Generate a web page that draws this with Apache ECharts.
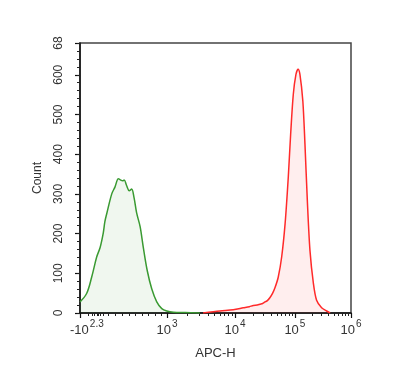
<!DOCTYPE html>
<html>
<head>
<meta charset="utf-8">
<script src="https://cdn.jsdelivr.net/npm/echarts@6/dist/echarts.min.js"></script>
<style>html,body{margin:0;padding:0;background:#fff}#c{width:397px;height:388px}</style>
</head>
<body>
<div id="c"></div>
<script>
// x values are display channels (0..1024) of the biexponential APC-H axis
var greenSeries = [[0,28],[25,49],[44,90],[63,141],[76,165],[88,202],[94,230],[101,250],[120,300],[132,317],[145,338],[151,336],[161,333],[167,335],[176,321],[186,308],[195,312],[204,291],[214,252],[227,218],[239,166],[254,107],[271,61],[290,28],[309,11],[328,5],[353,2],[397,1],[453,0]];
var redSeries = [[465,0],[529,5],[579,8],[617,13],[640,16],[655,19],[670,20],[680,22],[690,24],[699,28],[708,31],[718,39],[728,50],[737,64],[749,90],[762,141],[775,225],[787,342],[796,451],[806,551],[816,601],[824,614],[831,601],[842,534],[850,426],[859,283],[869,157],[882,74],[894,32],[913,13],[932,5],[945,0]];
var majorTickPos = [0, 329, 586, 812, 1024];
var majorTickLabels = ['-10|2.3', '10|3', '10|4', '10|5', '10|6'];
var labelPos = [26, 329, 586, 812, 1024];
var lowMinorTicks = [30, 47, 53, 64, 70, 76, 87, 106, 132, 159, 185, 208, 234, 257, 283, 306];
var yMax = 680;

var minorTicks = lowMinorTicks.slice();
for (var d = 1; d < majorTickPos.length - 1; d++) {
  var a = majorTickPos[d], b = majorTickPos[d + 1];
  for (var k = 2; k <= 9; k++) minorTicks.push(a + (b - a) * Math.log10(k));
}

var chart = echarts.init(document.getElementById('c'));
var txt = '#333';
chart.setOption({
  animation: false,
  grid: {left: 80, right: 46, top: 43, bottom: 75, show: true, borderColor: '#444', borderWidth: 1.5},
  xAxis: [{
    type: 'value', min: 0, max: 1024, position: 'bottom',
    name: 'APC-H', nameLocation: 'middle', nameGap: 34,
    nameTextStyle: {fontFamily: 'Liberation Sans', fontSize: 13, color: txt},
    axisLine: {show: true, lineStyle: {color: '#111', width: 1.5}},
    axisTick: {show: true, customValues: majorTickPos, length: 5, lineStyle: {color: '#111', width: 1.2}},
    axisLabel: {
      customValues: labelPos, margin: 6, showMinLabel: true, showMaxLabel: true,
      formatter: function (v) {
        var i = labelPos.indexOf(v);
        if (i < 0) return '';
        var p = majorTickLabels[i].split('|');
        return '{b|' + p[0] + '}{s|' + p[1] + '}';
      },
      rich: {
        b: {fontFamily: 'Liberation Sans', fontSize: 13, color: txt, lineHeight: 18, verticalAlign: 'bottom'},
        s: {fontFamily: 'Liberation Sans', fontSize: 10, color: txt, lineHeight: 18, verticalAlign: 'top', padding: [0, 0, 0, 1]}
      }
    },
    splitLine: {show: false}
  }, {
    type: 'value', min: 0, max: 1024, position: 'bottom',
    axisLine: {show: false},
    axisTick: {show: true, customValues: minorTicks, length: 3, lineStyle: {color: '#222', width: 1}},
    axisLabel: {show: false},
    splitLine: {show: false}
  }],
  yAxis: [{
    type: 'value', min: 0, max: yMax, interval: 100, position: 'left',
    name: 'Count', nameLocation: 'middle', nameGap: 36, nameRotate: 90,
    nameTextStyle: {fontFamily: 'Liberation Sans', fontSize: 12, color: txt},
    axisLine: {show: true, lineStyle: {color: '#111', width: 1.5}},
    axisTick: {show: true, length: 5, lineStyle: {color: '#111', width: 1.2}},
    axisLabel: {
      rotate: 90, margin: 15, showMaxLabel: true,
      fontFamily: 'Liberation Sans', fontSize: 12, color: txt,
      formatter: function (v) { return v === yMax ? '68' : String(v); }
    },
    splitLine: {show: false}
  }, {
    type: 'value', min: 0, max: yMax, interval: 20, position: 'left',
    axisLine: {show: false},
    axisTick: {show: true, length: 3, lineStyle: {color: '#222', width: 1}},
    axisLabel: {show: false},
    splitLine: {show: false}
  }],
  series: [{
    type: 'line', data: greenSeries, xAxisIndex: 0, yAxisIndex: 0,
    smooth: 0.35, showSymbol: false,
    lineStyle: {color: '#3a9a32', width: 1.5},
    areaStyle: {color: 'rgba(60,150,50,0.11)'}
  }, {
    type: 'line', data: redSeries, xAxisIndex: 0, yAxisIndex: 0,
    smooth: 0.3, showSymbol: false,
    lineStyle: {color: '#ff2a2a', width: 1.5},
    areaStyle: {color: 'rgba(255,60,60,0.12)'}
  }]
});
</script>
</body>
</html>
